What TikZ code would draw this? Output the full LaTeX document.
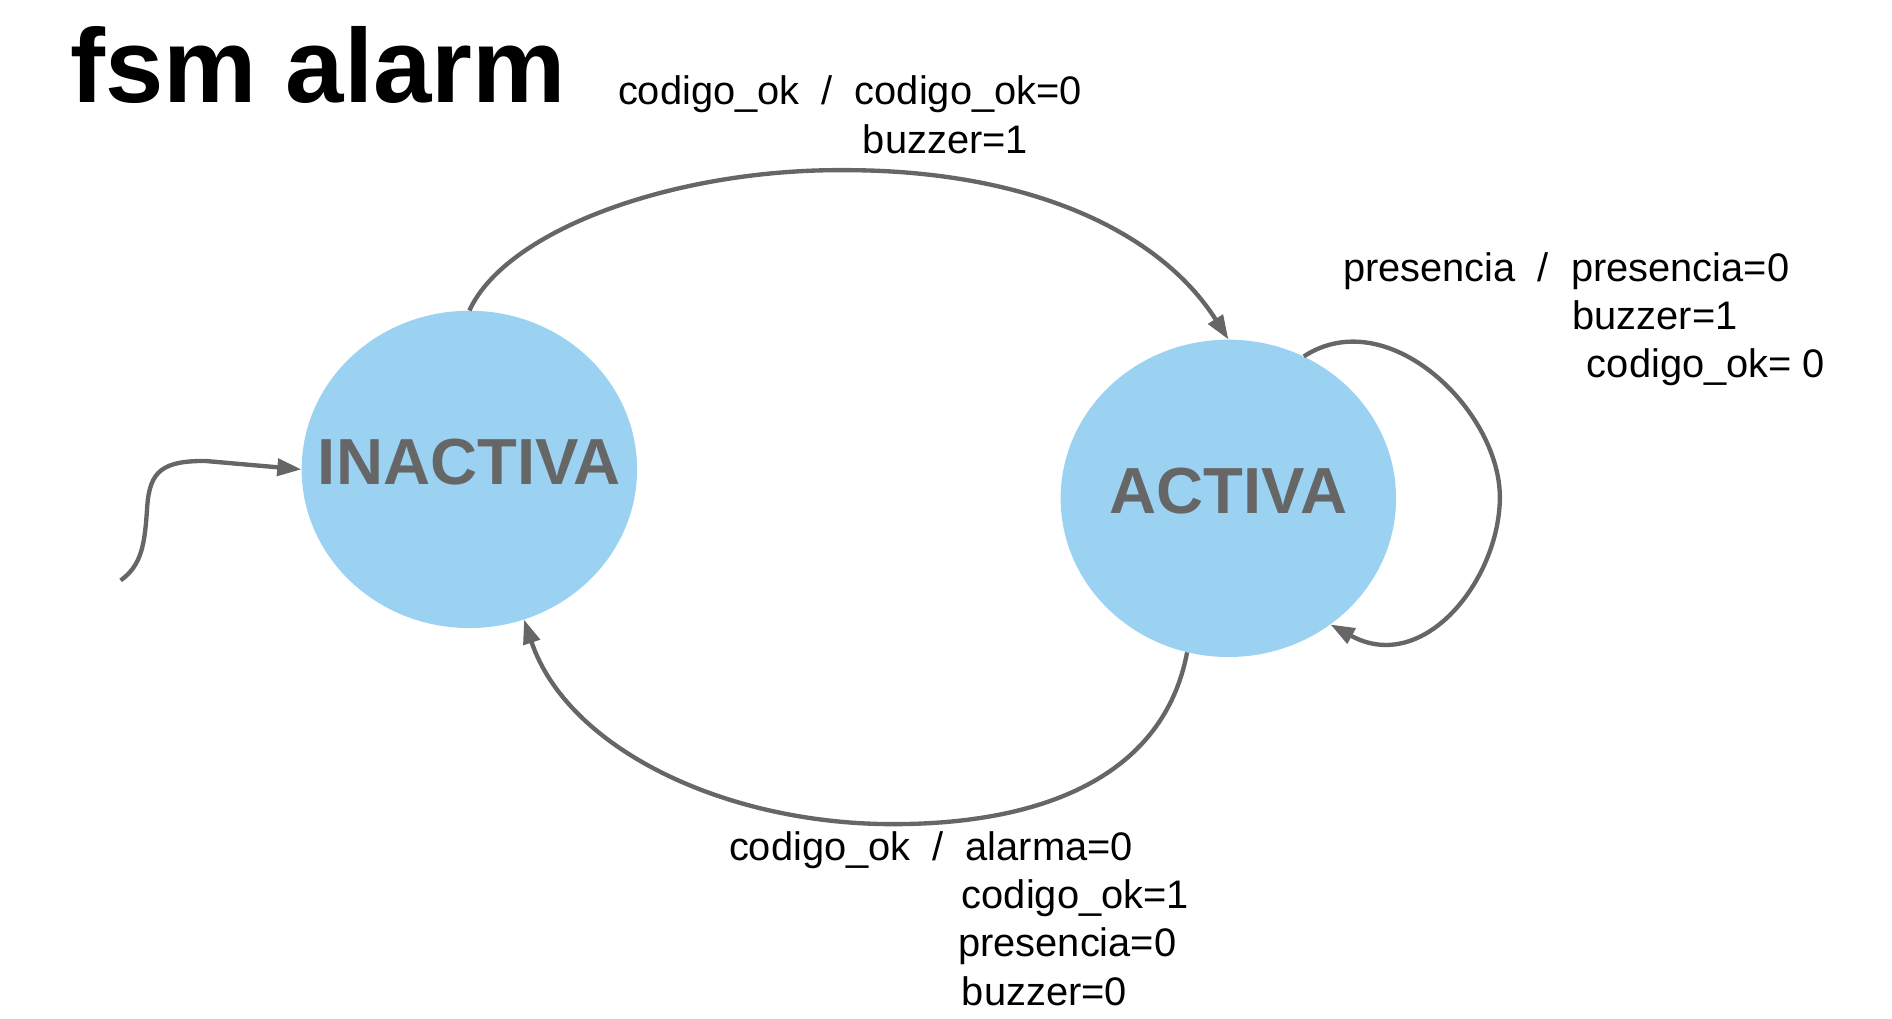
\documentclass[tikz,border=0pt]{standalone}
\usepackage{fontspec}
\setmainfont{Liberation Sans}
\usetikzlibrary{shapes.geometric,arrows.meta}
\definecolor{statefill}{HTML}{9BD2F2}
\definecolor{edgegray}{HTML}{666666}
\begin{document}
\begin{tikzpicture}[x=1pt,y=-1pt,
  state/.style={ellipse,fill=statefill,minimum width=278pt,minimum height=263pt,inner sep=0pt,
    text=edgegray,font=\fontsize{54}{60}\selectfont\bfseries,text depth=12pt},
  edge/.style={draw=edgegray,line width=3.6pt,-{Triangle[length=20pt,width=14pt]}},
  lbl/.style={anchor=base west,inner sep=0pt,font=\fontsize{33}{38}\selectfont},
  title/.style={anchor=base west,inner sep=0pt,font=\fontsize{87}{100}\selectfont\bfseries}]
\useasboundingbox (0,0) rectangle (1568,844);

\node[title] (ttl) at (58,85) {fsm alarm};

\node[state] (inact) at (389,389) {\makebox[0pt]{INACTIVA}};
\node[state] (act) at (1018,413) {\makebox[0pt]{ACTIVA}};

% initial arrow
\coordinate (init) at (100,481);
\draw[edge] (init) .. controls (118,468) and (120,450) .. (122,420)
  .. controls (124,390) and (135,382) .. (170,382) -- (inact.west);

% INACTIVA -> ACTIVA
\draw[edge] (inact.north) .. controls (420,190) and (560,140) .. (700,141)
  .. controls (850,141) and (960,190) .. (act.north);

% ACTIVA -> INACTIVA
\draw[edge] (act.255) .. controls (965,640) and (870,683) .. (740,683)
  .. controls (600,683) and (470,620) .. (inact.290);

% self loop
\draw[edge] (act.62) .. controls (1150,250) and (1243,340) .. (1243,412)
  .. controls (1243,480) and (1180,560) .. (act.309);

% labels
\node[lbl] (la1) at (512,87) {codigo\_ok\ \ /\ \ codigo\_ok=0};
\node[lbl] (la2) at (715,127) {buzzer=1};

\node[lbl] (lb1) at (1113,233) {presencia\ \ /\ \ presencia=0};
\node[lbl] (lb2) at (1303,273) {buzzer=1};
\node[lbl] (lb3) at (1315,313) {codigo\_ok= 0};

\node[lbl] (lc1) at (604,713) {codigo\_ok\ \ /\ \ alarma=0};
\node[lbl] (lc2) at (797,753) {codigo\_ok=1};
\node[lbl] (lc3) at (794,793) {presencia=0};
\node[lbl] (lc4) at (797,833) {buzzer=0};
\end{tikzpicture}
\end{document}
